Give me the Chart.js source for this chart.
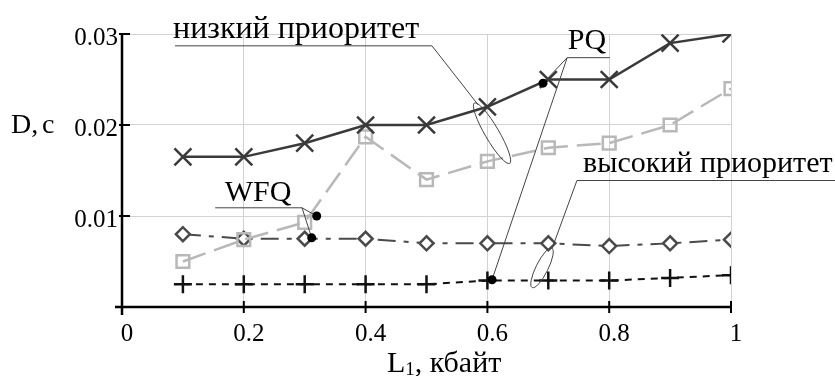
<!doctype html>
<html lang="ru">
<head>
<meta charset="utf-8">
<title>D(L1)</title>
<script src="https://cdn.jsdelivr.net/npm/chart.js@4.4.0/dist/chart.umd.min.js"></script>
<style>
  body { margin: 0; background: #fff; }
  #wrap { width: 835px; height: 376px; }
</style>
</head>
<body>
<div id="wrap"><canvas id="chart"></canvas></div>
<script>
// L1, кбайт
var L1 = [0.1, 0.2, 0.3, 0.4, 0.5, 0.6, 0.7, 0.8, 0.9, 1.0];
// D, c
var pqLow   = [0.0165, 0.0165, 0.018, 0.02, 0.02, 0.022, 0.025, 0.025, 0.029, 0.030];
var wfqLow  = [0.005, 0.0074, 0.0093, 0.0187, 0.014, 0.016, 0.0175, 0.018, 0.02, 0.024];
var wfqHigh = [0.008, 0.0075, 0.0075, 0.0075, 0.007, 0.007, 0.007, 0.0067, 0.007, 0.0074];
var pqHigh  = [0.0025, 0.0025, 0.0025, 0.0025, 0.0025, 0.0029, 0.0029, 0.0029, 0.0032, 0.0035];

var xTickValues = [0, 0.2, 0.4, 0.6, 0.8, 1];
var xTickLabels = ['0', '0.2', '0.4', '0.6', '0.8', '1'];
var yTickValues = [0, 0.01, 0.02, 0.03];
var yTickLabels = ['', '0.01', '0.02', '0.03'];

var serif = '"Liberation Serif", "Times New Roman", serif';

function pts(ys) {
    return L1.map(function (x, i) { return { x: x, y: ys[i] }; });
}

// подписи и выноски (в единицах осей)
var decor = {
    id: 'decor',
    afterDraw: function (chart) {
        var ctx = chart.ctx, xs = chart.scales.x, ys = chart.scales.y;
        function X(v) { return xs.getPixelForValue(v); }
        function Y(v) { return ys.getPixelForValue(v); }
        ctx.save();

        // оси
        ctx.strokeStyle = '#000';
        ctx.lineWidth = 2.5;
        ctx.beginPath();
        ctx.moveTo(X(0) - 7, Y(0));
        ctx.lineTo(X(1), Y(0));
        ctx.moveTo(X(0), Y(0) + 8);
        ctx.lineTo(X(0), Y(0.03));
        ctx.stroke();
        ctx.lineWidth = 2;
        ctx.beginPath();
        xTickValues.slice(1).forEach(function (v) {
            ctx.moveTo(X(v), Y(0) - 6);
            ctx.lineTo(X(v), Y(0) + 6);
        });
        yTickValues.slice(1).forEach(function (v) {
            ctx.moveTo(X(0) - 3, Y(v));
            ctx.lineTo(X(0) + 8, Y(v));
        });
        ctx.stroke();

        // выноски
        ctx.strokeStyle = '#444';
        ctx.lineWidth = 1;
        ctx.beginPath();
        // низкий приоритет
        ctx.moveTo(X(0.087), Y(0.0287));
        ctx.lineTo(X(0.509), Y(0.0287));
        ctx.lineTo(X(0.585), Y(0.0222));
        // PQ
        ctx.moveTo(X(0.801), Y(0.0274));
        ctx.lineTo(X(0.731), Y(0.0274));
        ctx.lineTo(X(0.6913), Y(0.0246));
        ctx.moveTo(X(0.731), Y(0.0274));
        ctx.lineTo(X(0.6076), Y(0.0030));
        // высокий приоритет
        ctx.moveTo(X(1.175), Y(0.0139));
        ctx.lineTo(X(0.747), Y(0.0139));
        ctx.lineTo(X(0.706), Y(0.0064));
        // WFQ
        ctx.moveTo(X(0.153), Y(0.0109));
        ctx.lineTo(X(0.2956), Y(0.0109));
        ctx.lineTo(X(0.3197), Y(0.0100));
        ctx.moveTo(X(0.2956), Y(0.0109));
        ctx.lineTo(X(0.3115), Y(0.0076));
        ctx.stroke();

        ctx.beginPath();
        ctx.ellipse(X(0.6076), Y(0.0191), 35, 7, 59.7 * Math.PI / 180, 0, 2 * Math.PI);
        ctx.stroke();
        ctx.beginPath();
        ctx.ellipse(X(0.6897), Y(0.0043), 22, 6, 116.6 * Math.PI / 180, 0, 2 * Math.PI);
        ctx.stroke();

        ctx.fillStyle = '#000';
        [[0.6913, 0.0246], [0.6076, 0.0030], [0.3197, 0.0100], [0.3115, 0.0076]].forEach(function (p) {
            ctx.beginPath();
            ctx.arc(X(p[0]), Y(p[1]), 4.5, 0, 2 * Math.PI);
            ctx.fill();
        });

        // тексты
        ctx.fillStyle = '#000';
        ctx.textBaseline = 'alphabetic';
        ctx.textAlign = 'center';
        ctx.font = '32px ' + serif;
        ctx.fillText('низкий приоритет', X(0.286), Y(0.0296));
        ctx.font = '30px ' + serif;
        ctx.fillText('высокий приоритет', X(0.962), Y(0.0148));
        ctx.fillText('PQ', X(0.7635), Y(0.0284));
        ctx.fillText('WFQ', X(0.2233), Y(0.0116));

        // D, c
        ctx.font = '28px ' + serif;
        ctx.textAlign = 'left';
        ctx.textBaseline = 'middle';
        ctx.fillText('D,', 11, Y(0.02) + 1);
        ctx.fillText('c', 42, Y(0.02) + 1);

        // L1, кбайт
        ctx.font = '30px ' + serif;
        ctx.textBaseline = 'alphabetic';
        var bx = X(0.435), by = Y(0) + 65;
        ctx.fillText('L', bx, by);
        var w = ctx.measureText('L').width;
        ctx.font = '19px ' + serif;
        ctx.fillText('1', bx + w, by + 3);
        var w2 = ctx.measureText('1').width;
        ctx.font = '30px ' + serif;
        ctx.fillText(', кбайт', bx + w + w2, by);

        ctx.restore();
    }
};

new Chart(document.getElementById('chart').getContext('2d'), {
    type: 'line',
    data: {
        datasets: [{
            label: 'PQ низкий приоритет',
            data: pts(pqLow),
            clip: 0,
            borderColor: '#3a3a3a',
            borderWidth: 2.5,
            pointStyle: 'crossRot',
            pointRadius: 12,
            pointBorderWidth: 2.5,
            pointBorderColor: '#3a3a3a',
            lineTension: 0
        }, {
            label: 'WFQ низкий приоритет',
            data: pts(wfqLow),
            clip: 0,
            borderColor: '#b8b8b8',
            borderWidth: 2.5,
            borderDash: [24, 9],
            pointStyle: 'rect',
            pointRadius: 9,
            pointBorderWidth: 2.5,
            pointBorderColor: '#b8b8b8',
            pointBackgroundColor: 'rgba(255,255,255,0)',
            lineTension: 0
        }, {
            label: 'WFQ высокий приоритет',
            data: pts(wfqHigh),
            clip: 0,
            borderColor: '#4a4a4a',
            borderWidth: 2,
            borderDash: [18, 8, 5, 8],
            pointStyle: 'rectRot',
            pointRadius: 7,
            pointBorderWidth: 2.5,
            pointBorderColor: '#4a4a4a',
            pointBackgroundColor: '#fff',
            lineTension: 0
        }, {
            label: 'PQ высокий приоритет',
            data: pts(pqHigh),
            clip: 0,
            borderColor: '#111',
            borderWidth: 2,
            borderDash: [7, 6],
            pointStyle: 'cross',
            pointRadius: 9,
            pointBorderWidth: 2.5,
            pointBorderColor: '#111',
            lineTension: 0
        }]
    },
    options: {
        responsive: true,
        maintainAspectRatio: false,
        animation: false,
        layout: { padding: { top: 34, right: 104, left: 0, bottom: 0 } },
        plugins: { legend: { display: false }, tooltip: { enabled: false } },
        scales: {
            x: {
                type: 'linear',
                min: 0,
                max: 1,
                afterBuildTicks: function (s) { s.ticks = xTickValues.map(function (v) { return { value: v }; }); },
                afterFit: function (s) { s.height = 69; },
                border: { display: false },
                grid: {
                    color: function (c) { return c.index === 0 ? 'rgba(0,0,0,0)' : '#d2d2d2'; },
                    lineWidth: 1,
                    drawTicks: false
                },
                ticks: {
                    callback: function (v, i) { return xTickLabels[i]; },
                    font: { family: serif, size: 25 },
                    color: '#000',
                    padding: 12,
                    labelOffset: 5,
                    maxRotation: 0,
                    autoSkip: false
                }
            },
            y: {
                type: 'linear',
                min: 0,
                max: 0.03,
                afterBuildTicks: function (s) { s.ticks = yTickValues.map(function (v) { return { value: v }; }); },
                afterFit: function (s) { s.width = 122; },
                border: { display: false },
                grid: {
                    color: function (c) { return c.index === 0 ? 'rgba(0,0,0,0)' : '#d2d2d2'; },
                    lineWidth: 1,
                    drawTicks: false
                },
                ticks: {
                    callback: function (v, i) { return yTickLabels[i]; },
                    font: { family: serif, size: 25 },
                    color: '#000',
                    padding: 4,
                    labelOffset: 4,
                    autoSkip: false
                }
            }
        }
    },
    plugins: [decor]
});
</script>
</body>
</html>
